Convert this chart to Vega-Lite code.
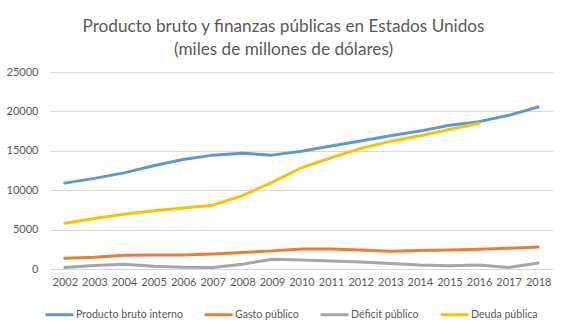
{
  "$schema": "https://vega.github.io/schema/vega-lite/v6.json",
  "autosize": "none",
  "width": 503,
  "height": 197,
  "padding": {"left": 50, "top": 72, "right": 14, "bottom": 62},
  "background": "white",
  "title": {
    "text": ["Producto bruto y finanzas públicas en Estados Unidos", "(miles de millones de dólares)"],
    "anchor": "middle",
    "frame": "group",
    "dx": -18,
    "offset": 8,
    "font": "Lato",
    "fontSize": 17.2,
    "fontWeight": "normal",
    "lineHeight": 23,
    "color": "#595959"
  },
  "config": {
    "view": {"stroke": null},
    "font": "Lato"
  },
  "data": {
    "values": [
      {"year": "2002", "serie": "Producto bruto interno", "valor": 10900},
      {"year": "2003", "serie": "Producto bruto interno", "valor": 11500},
      {"year": "2004", "serie": "Producto bruto interno", "valor": 12200},
      {"year": "2005", "serie": "Producto bruto interno", "valor": 13100},
      {"year": "2006", "serie": "Producto bruto interno", "valor": 13900},
      {"year": "2007", "serie": "Producto bruto interno", "valor": 14450},
      {"year": "2008", "serie": "Producto bruto interno", "valor": 14700},
      {"year": "2009", "serie": "Producto bruto interno", "valor": 14450},
      {"year": "2010", "serie": "Producto bruto interno", "valor": 14950},
      {"year": "2011", "serie": "Producto bruto interno", "valor": 15600},
      {"year": "2012", "serie": "Producto bruto interno", "valor": 16250},
      {"year": "2013", "serie": "Producto bruto interno", "valor": 16900},
      {"year": "2014", "serie": "Producto bruto interno", "valor": 17500},
      {"year": "2015", "serie": "Producto bruto interno", "valor": 18250},
      {"year": "2016", "serie": "Producto bruto interno", "valor": 18700},
      {"year": "2017", "serie": "Producto bruto interno", "valor": 19500},
      {"year": "2018", "serie": "Producto bruto interno", "valor": 20550},
      {"year": "2002", "serie": "Gasto público", "valor": 1350},
      {"year": "2003", "serie": "Gasto público", "valor": 1500},
      {"year": "2004", "serie": "Gasto público", "valor": 1750},
      {"year": "2005", "serie": "Gasto público", "valor": 1780},
      {"year": "2006", "serie": "Gasto público", "valor": 1780},
      {"year": "2007", "serie": "Gasto público", "valor": 1900},
      {"year": "2008", "serie": "Gasto público", "valor": 2100},
      {"year": "2009", "serie": "Gasto público", "valor": 2300},
      {"year": "2010", "serie": "Gasto público", "valor": 2550},
      {"year": "2011", "serie": "Gasto público", "valor": 2550},
      {"year": "2012", "serie": "Gasto público", "valor": 2400},
      {"year": "2013", "serie": "Gasto público", "valor": 2250},
      {"year": "2014", "serie": "Gasto público", "valor": 2350},
      {"year": "2015", "serie": "Gasto público", "valor": 2400},
      {"year": "2016", "serie": "Gasto público", "valor": 2500},
      {"year": "2017", "serie": "Gasto público", "valor": 2620},
      {"year": "2018", "serie": "Gasto público", "valor": 2780},
      {"year": "2002", "serie": "Déficit público", "valor": 200},
      {"year": "2003", "serie": "Déficit público", "valor": 450},
      {"year": "2004", "serie": "Déficit público", "valor": 600},
      {"year": "2005", "serie": "Déficit público", "valor": 350},
      {"year": "2006", "serie": "Déficit público", "valor": 220},
      {"year": "2007", "serie": "Déficit público", "valor": 200},
      {"year": "2008", "serie": "Déficit público", "valor": 600},
      {"year": "2009", "serie": "Déficit público", "valor": 1250},
      {"year": "2010", "serie": "Déficit público", "valor": 1150},
      {"year": "2011", "serie": "Déficit público", "valor": 1000},
      {"year": "2012", "serie": "Déficit público", "valor": 900},
      {"year": "2013", "serie": "Déficit público", "valor": 700},
      {"year": "2014", "serie": "Déficit público", "valor": 500},
      {"year": "2015", "serie": "Déficit público", "valor": 400},
      {"year": "2016", "serie": "Déficit público", "valor": 500},
      {"year": "2017", "serie": "Déficit público", "valor": 200},
      {"year": "2018", "serie": "Déficit público", "valor": 770},
      {"year": "2002", "serie": "Deuda pública", "valor": 5800},
      {"year": "2003", "serie": "Deuda pública", "valor": 6400},
      {"year": "2004", "serie": "Deuda pública", "valor": 6950},
      {"year": "2005", "serie": "Deuda pública", "valor": 7400},
      {"year": "2006", "serie": "Deuda pública", "valor": 7750},
      {"year": "2007", "serie": "Deuda pública", "valor": 8100},
      {"year": "2008", "serie": "Deuda pública", "valor": 9300},
      {"year": "2009", "serie": "Deuda pública", "valor": 11000},
      {"year": "2010", "serie": "Deuda pública", "valor": 12850},
      {"year": "2011", "serie": "Deuda pública", "valor": 14100},
      {"year": "2012", "serie": "Deuda pública", "valor": 15300},
      {"year": "2013", "serie": "Deuda pública", "valor": 16200},
      {"year": "2014", "serie": "Deuda pública", "valor": 16900},
      {"year": "2015", "serie": "Deuda pública", "valor": 17700},
      {"year": "2016", "serie": "Deuda pública", "valor": 18500}
    ]
  },
  "mark": {"type": "line", "strokeWidth": 3, "strokeCap": "round", "strokeJoin": "round"},
  "encoding": {
    "x": {
      "field": "year",
      "type": "ordinal",
      "scale": {"type": "point", "padding": 0.5},
      "axis": {
        "title": null,
        "labelAngle": 0,
        "labelFont": "Lato",
        "labelFontSize": 11,
        "labelColor": "#595959",
        "labelPadding": 7,
        "ticks": false,
        "domainColor": "#d9d9d9",
        "domainWidth": 1,
        "grid": false
      }
    },
    "y": {
      "field": "valor",
      "type": "quantitative",
      "scale": {"domain": [0, 25000]},
      "axis": {
        "title": null,
        "values": [0, 5000, 10000, 15000, 20000, 25000],
        "format": "d",
        "labelFont": "Lato",
        "labelFontSize": 11,
        "labelColor": "#595959",
        "labelPadding": 12,
        "ticks": false,
        "domain": false,
        "gridColor": "#d9d9d9",
        "gridWidth": 1
      }
    },
    "color": {
      "field": "serie",
      "type": "nominal",
      "sort": ["Producto bruto interno", "Gasto público", "Déficit público", "Deuda pública"],
      "scale": {
        "domain": ["Producto bruto interno", "Gasto público", "Déficit público", "Deuda pública"],
        "range": ["#5B9BD5", "#ED7D31", "#A5A5A5", "#FFC000"]
      },
      "legend": {
        "title": null,
        "orient": "none",
        "legendX": -6,
        "legendY": 227,
        "direction": "horizontal",
        "symbolType": "stroke",
        "symbolSize": 784,
        "symbolStrokeWidth": 3,
        "labelFont": "Lato",
        "labelFontSize": 10.6,
        "labelColor": "#595959",
        "labelOffset": 1,
        "columnPadding": 15
      }
    }
  }
}
